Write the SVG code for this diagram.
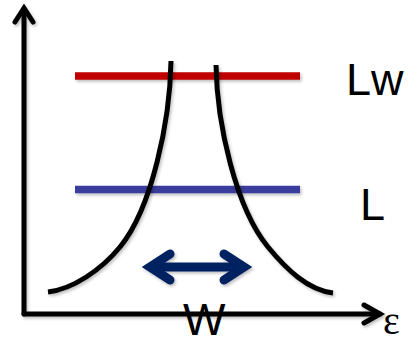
<svg xmlns="http://www.w3.org/2000/svg" width="411" height="344" viewBox="0 0 411 344">
<defs>
<filter id="sh" filterUnits="userSpaceOnUse" x="0" y="0" width="411" height="344">
<feDropShadow dx="1.5" dy="2" stdDeviation="1.5" flood-color="#000" flood-opacity="0.25"/>
</filter>
</defs>
<style>
.ax{fill:none;stroke:#000;stroke-width:5;stroke-linejoin:miter;stroke-linecap:round}
.cv{fill:none;stroke:#000;stroke-width:5;stroke-linecap:butt}
.lvl{stroke-width:7.5;stroke-linecap:butt}
.dbl{fill:none;stroke:#002060;stroke-width:9;stroke-linejoin:miter;stroke-miterlimit:10;stroke-linecap:round}
.lbl{font-family:"Liberation Sans",Arial,sans-serif;font-size:45px;fill:#000}
</style>
<rect width="411" height="344" fill="#fff"/>
<g id="connectors" filter="url(#sh)">
<g id="y-axis"><path class="ax" d="M24,314 L24,9"/><path class="ax" d="M15,22 L24,8 L33,22"/></g>
<g id="x-axis"><path class="ax" d="M24,314 L380,314"/><path class="ax" d="M364,305 L380,314 L364,323"/></g>
</g>
<g id="level-Lw" filter="url(#sh)"><line class="lvl" x1="75" y1="76" x2="300" y2="76" stroke="#c00000"/></g>
<g id="level-L" filter="url(#sh)"><line class="lvl" x1="75" y1="189.5" x2="300" y2="189.5" stroke="#3a3c9c"/></g>
<g id="curve-left" filter="url(#sh)"><path class="cv" d="M48,292 C73,289 101,270 120,247 C152,208 170,121 171,61"/></g>
<g id="curve-right" filter="url(#sh)"><path class="cv" d="M216,65 C217,125 236,208 268,247 C287,270 308,290 333,293"/></g>
<g id="width-arrow" filter="url(#sh)">
<path class="dbl" d="M152,267 L242,267"/>
<path class="dbl" d="M170,254 L150,267 L170,280"/>
<path class="dbl" d="M224,254 L244,267 L224,280"/>
</g>
<g id="label-Lw"><text class="lbl" x="346" y="95">Lw</text></g>
<g id="label-L"><text class="lbl" x="360" y="220">L</text></g>
<g id="label-W"><text class="lbl" x="183" y="335">W</text></g>
<g id="label-eps"><text x="383" y="334" style="font-family:'Liberation Serif','Times New Roman',serif;font-size:40px;fill:#000">ε</text></g>
</svg>
